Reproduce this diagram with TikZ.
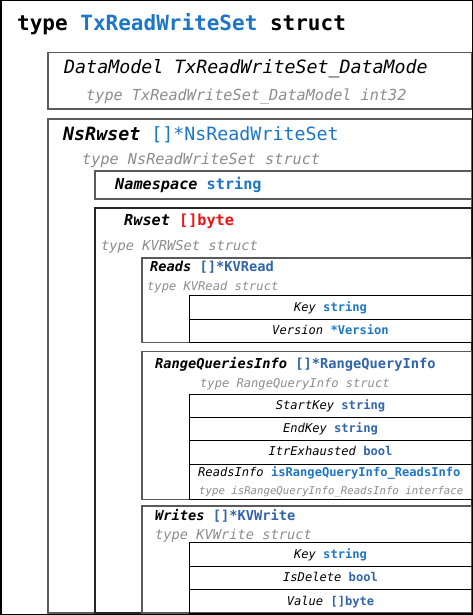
\documentclass[tikz,border=0pt]{standalone}
\usepackage{fontspec}
\setmonofont{DejaVu Sans Mono}
\definecolor{goblue}{RGB}{28,118,200}
\definecolor{gosteel}{RGB}{50,100,172}
\definecolor{gored}{RGB}{235,20,20}
\definecolor{gogray}{RGB}{140,140,140}
\definecolor{boxgray}{RGB}{90,90,90}

\begin{document}
\begin{tikzpicture}[x=1pt,y=-1pt,
    txt/.style={inner sep=0pt,anchor=base west},
    mid/.style={inner sep=0pt,anchor=base},
    szT/.style={font=\ttfamily\fontsize{21}{25}\selectfont},
    szA/.style={font=\ttfamily\fontsize{18.3}{22}\selectfont},
    szB/.style={font=\ttfamily\fontsize{15.2}{18}\selectfont},
    szC/.style={font=\ttfamily\fontsize{13.7}{16}\selectfont},
    szD/.style={font=\ttfamily\fontsize{12.1}{14}\selectfont},
    szE/.style={font=\ttfamily\fontsize{10.7}{13}\selectfont},
    cbox/.style={draw=boxgray,line width=1.5pt},
    rowbox/.style={draw=black,line width=1pt}]
    \useasboundingbox (0,0) rectangle (473,615);
    % Boxes
    \draw[cbox] (48,52.7) rectangle (472,109);
    \draw[cbox] (48,119) rectangle (472,613);
    \draw[cbox] (95,171) rectangle (472,199);
    \draw[cbox,draw=black!85] (95,208) rectangle (472,613);
    \draw[cbox] (142,258) rectangle (472,342.7);
    \draw[cbox] (142,351.7) rectangle (472,499.3);
    \draw[cbox] (142,506) rectangle (472,613);
    % Rows
    \draw[rowbox] (189,295.7) rectangle (472,319);
    \draw[rowbox] (189,319) rectangle (472,342.7);
    \draw[rowbox] (189,394) rectangle (472,417.3);
    \draw[rowbox] (189,417.3) rectangle (472,440.7);
    \draw[rowbox] (189,440.7) rectangle (472,464.3);
    \draw[rowbox] (189,464.3) rectangle (472,499.3);
    \draw[rowbox] (189,542.7) rectangle (472,566);
    \draw[rowbox] (189,566) rectangle (472,589.3);
    \draw[rowbox] (189,589.3) rectangle (472,613);
    % Outer frame
    \draw[black,line width=1.5pt] (0.75,0.75) rectangle (472.25,614.25);
    % Texts
    \node[txt,szT] (title) at (17,31) {\bfseries type \textcolor{goblue}{TxReadWriteSet} struct};
    \node[txt,szA] (datamodel) at (64,73.3) {\itshape DataModel TxReadWriteSet\_DataMode};
    \node[txt,szB,gogray] (datamodeltype) at (86,100.7) {\itshape type TxReadWriteSet\_DataModel int32};
    \node[txt,szA] (nsrwset) at (63,140) {\bfseries\itshape NsRwset \textcolor{goblue}{\mdseries\upshape []*NsReadWriteSet}};
    \node[txt,szB,gogray] (nsrwsettype) at (82,164.7) {\itshape type NsReadWriteSet struct};
    \node[txt,szB] (namespace) at (115,189) {\bfseries\itshape Namespace \textcolor{goblue}{\upshape string}};
    \node[txt,szB] (rwset) at (124,225) {\bfseries\itshape Rwset \textcolor{gored}{\upshape []byte}};
    \node[txt,szC,gogray] (rwsettype) at (101,250.7) {\itshape type KVRWSet struct};
    \node[txt,szC] (reads) at (150,271) {\bfseries\itshape Reads \textcolor{gosteel}{\upshape []*KVRead}};
    \node[txt,szD,gogray] (readstype) at (147,290.7) {\itshape type KVRead struct};
    \node[mid,szD] (readkey) at (330.5,311.7) {\itshape Key \textcolor{goblue}{\bfseries\upshape string}};
    \node[mid,szD] (readversion) at (330.5,334.3) {\itshape Version \textcolor{goblue}{\bfseries\upshape *Version}};
    \node[txt,szC] (rqinfo) at (155,368.3) {\bfseries\itshape RangeQueriesInfo \textcolor{gosteel}{\upshape []*RangeQueryInfo}};
    \node[txt,szD,gogray] (rqinfotype) at (200,387.7) {\itshape type RangeQueryInfo struct};
    \node[mid,szD] (startkey) at (330.5,409) {\itshape StartKey \textcolor{gosteel}{\bfseries\upshape string}};
    \node[mid,szD] (endkey) at (330.5,432.3) {\itshape EndKey \textcolor{gosteel}{\bfseries\upshape string}};
    \node[mid,szD] (itrexh) at (330.5,455.7) {\itshape ItrExhausted \textcolor{gosteel}{\bfseries\upshape bool}};
    \node[txt,szD] (readsinfo) at (198,476) {\itshape ReadsInfo \textcolor{goblue}{\bfseries\upshape isRangeQueryInfo\_ReadsInfo}};
    \node[txt,szE,gogray] (readsinfotype) at (199,494.6) {\itshape type isRangeQueryInfo\_ReadsInfo interface};
    \node[txt,szC] (writes) at (155,520) {\bfseries\itshape Writes \textcolor{gosteel}{\upshape []*KVWrite}};
    \node[txt,szC,gogray] (writestype) at (155,539.3) {\itshape type KVWrite struct};
    \node[mid,szD] (writekey) at (330.5,558.3) {\itshape Key \textcolor{goblue}{\bfseries\upshape string}};
    \node[mid,szD] (isdelete) at (330.5,581) {\itshape IsDelete \textcolor{gosteel}{\bfseries\upshape bool}};
    \node[mid,szD] (value) at (330.5,605) {\itshape Value \textcolor{gosteel}{\bfseries\upshape []byte}};
\end{tikzpicture}
\end{document}
